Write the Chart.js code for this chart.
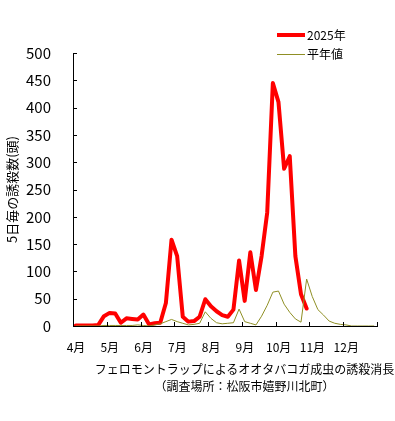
<!DOCTYPE html>
<html>
<head>
<meta charset="utf-8">
<script src="https://cdn.jsdelivr.net/npm/chart.js@4"></script>
<style>
  html, body { margin: 0; padding: 0; background: #fff; }
  #wrap { position: relative; width: 395px; height: 421px; }
  canvas { position: absolute; left: 0; top: 0; }
  .cap { position: absolute; left: 0; width: 395px; text-align: center;
         font: 12px "Noto Sans CJK JP", sans-serif; color: #000; white-space: nowrap; }
</style>
</head>
<body>
<div id="wrap">
  <canvas id="chart" width="395" height="421"></canvas>
  <div class="cap" style="top:360px; left:47px;">フェロモントラップによるオオタバコガ成虫の誘殺消長</div>
  <div class="cap" style="top:377px; left:47px;">（調査場所：松阪市嬉野川北町）</div>
</div>
<script>
// 5-day counts, Apr 1-5 .. Dec 26-31 (6 per month)
const months = ['4月', '5月', '6月', '7月', '8月', '9月', '10月', '11月', '12月'];
const seriesLabels = ['2025年', '平年値'];

const y2025 = [1, 1, 1, 1, 2, 18, 24, 23, 6, 14, 13, 12, 21, 3, 5, 6, 42, 158,
  128, 17, 8, 9, 17, 49, 36, 27, 20, 17, 30, 120, 46, 135, 66, 128, 208, 445,
  410, 288, 311, 128, 58, 32];

const normal = [0, 0, 0, 0, 0, 1, 1, 1, 1, 1, 1, 2, 1, 0, 2, 4, 8, 12,
  8, 5, 2, 3, 5, 26, 14, 6, 4, 5, 6, 31, 8, 5, 2, 18, 38, 62,
  64, 40, 25, 13, 7, 86, 54, 30, 20, 9, 5, 3, 2, 0, 0, 0, 0, 0];

const yTicks = [0, 50, 100, 150, 200, 250, 300, 350, 400, 450, 500];

const toPoints = arr => arr.map((v, i) => ({ x: i + 0.5, y: v }));

const FONT = '"Noto Sans CJK JP", "Noto Sans", sans-serif';

// small inward tick marks on both axes
const innerTicks = {
  id: 'innerTicks',
  afterDraw(chart) {
    const ctx = chart.ctx;
    const xs = chart.scales.x, ys = chart.scales.y;
    const a = chart.chartArea;
    ctx.save();
    ctx.strokeStyle = '#000';
    ctx.lineWidth = 1;
    ctx.beginPath();
    yTicks.forEach(v => {
      const py = Math.round(ys.getPixelForValue(v)) + 0.5;
      ctx.moveTo(a.left, py); ctx.lineTo(a.left + 4, py);
    });
    for (let m = 0; m <= 54; m += 6) {
      const px = Math.round(xs.getPixelForValue(m)) + 0.5;
      ctx.moveTo(px, a.bottom); ctx.lineTo(px, a.bottom - 4);
    }
    ctx.stroke();
    ctx.restore();
  }
};

// legend in the top right corner
const cornerLegend = {
  id: 'cornerLegend',
  afterDraw(chart) {
    const ctx = chart.ctx;
    ctx.save();
    ctx.font = '12px ' + FONT;
    ctx.textBaseline = 'middle';
    ctx.fillStyle = '#000';
    // list it as 2025 first, then normal
    chart.data.datasets.forEach((ds, k) => {
      const y = 35 + k * 19.5;
      ctx.strokeStyle = ds.borderColor;
      ctx.lineWidth = ds.borderWidth;
      ctx.beginPath();
      ctx.moveTo(277, y); ctx.lineTo(305, y);
      ctx.stroke();
      ctx.fillText(ds.label, 307, y);
    });
    ctx.restore();
  }
};

new Chart(document.getElementById('chart'), {
  type: 'line',
  data: {
    datasets: [
      { label: seriesLabels[0], data: toPoints(y2025), borderColor: '#ff0000',
        borderWidth: 4, borderJoinStyle: 'round', borderCapStyle: 'round',
        pointRadius: 0, tension: 0, order: 1 },
      { label: seriesLabels[1], data: toPoints(normal), borderColor: '#8f8f24',
        borderWidth: 1, pointRadius: 0, tension: 0, order: 0 }
    ]
  },
  options: {
    responsive: false,
    animation: false,
    devicePixelRatio: 1,
    layout: { padding: { left: 0, top: 53, right: 18, bottom: 0 } },
    plugins: { legend: { display: false }, tooltip: { enabled: false } },
    scales: {
      x: {
        type: 'linear', min: 0, max: 54,
        grid: { display: false },
        border: { display: true, color: '#000', width: 1 },
        afterBuildTicks: s => { s.ticks = months.map((m, i) => ({ value: i * 6 })).concat([{ value: 54 }]); },
        afterFit: s => { s.height = 95; },
        ticks: {
          autoSkip: false, maxRotation: 0, padding: 6, labelOffset: 3,
          color: '#000', font: { family: FONT, size: 12 },
          callback: v => months[v / 6] || ''
        }
      },
      y: {
        min: 0, max: 500,
        grid: { display: false },
        border: { display: true, color: '#000', width: 1 },
        afterBuildTicks: s => { s.ticks = yTicks.map(v => ({ value: v })); },
        afterFit: s => { s.width = 73; },
        ticks: { padding: 14, color: '#000', font: { family: FONT, size: 15 } },
        title: { display: true, text: '5日毎の誘殺数(頭)', color: '#000',
                 font: { family: FONT, size: 13 }, padding: { top: 4, bottom: 0 } }
      }
    }
  },
  plugins: [innerTicks, cornerLegend]
});
</script>
</body>
</html>
